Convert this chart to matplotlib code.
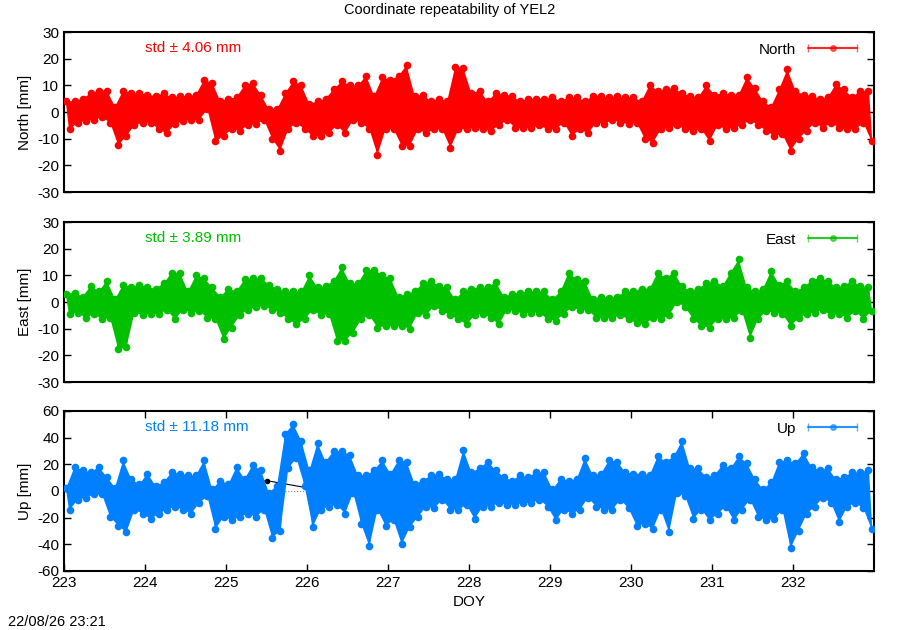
import numpy as np
import matplotlib
matplotlib.use("Agg")
import matplotlib.pyplot as plt
from matplotlib.container import ErrorbarContainer
from matplotlib.legend_handler import HandlerErrorbar

plt.rcParams["font.family"] = ["Liberation Sans", "DejaVu Sans"]
plt.rcParams["axes.unicode_minus"] = False

# residuals read per 0.1 day bin: upper and lower point in each bin (mm)
doy_start = 223.0
bin_width = 0.1

north_hi = [4, 4, 5, 7, 8, 8, 2, 8, 7, 7,
            6.5, 6, 7, 5.5, 6, 6, 6.5, 12, 11, 4,
            5, 5.5, 10, 11, 6.5, 1, 1, 7, 11.5, 10,
            3, 4, 5, 8.5, 11.5, 10, 10, 13.5, 6, 13,
            12, 13.5, 17.5, 6, 6.5, 4, 5, 4, 17, 16.5,
            7, 8, 4, 7, 6.5, 6, 4, 5, 5, 5,
            5.5, 4, 5.5, 5.5, 4, 6, 6, 5.5, 6, 5.5,
            5.5, 4, 10, 8, 8.5, 9, 7, 6, 5.5, 10,
            6.5, 7, 6.5, 6.5, 13, 9, 4, 2, 8.5, 16,
            8, 6.5, 6, 5, 5.5, 10.4, 8.5, 5.5, 8, 8]
north_lo = [-6.5, -4, -3.4, -3, -2, -4, -12.5, -9, -5, -4,
            -4, -6.5, -8, -4.5, -3.4, -3, -3, 1, -11, -9,
            -6.5, -7, -5, -4.5, -3, -10, -14.5, -6.5, -4, -6.5,
            -9, -9, -8, -5, -8, -3, -4, -6.5, -16, -6.5,
            -6.5, -12.7, -12.7, -6.5, -8, -6.5, -6.5, -13.4, -6.5, -6.5,
            -6, -6.5, -7, -5, -3, -6, -6, -6, -5, -6.5,
            -6.5, -4, -9, -6.5, -8, -4, -4.5, -3, -4, -4.5,
            -4, -10, -11.5, -6.5, -6, -5, -6.5, -7, -6.5, -11,
            -5, -6.5, -6, -5, -3, -5, -7, -9, -8.4, -14.5,
            -10, -7, -4, -6, -4, -6, -6.5, -6.5, -4, -11]

east_hi = [3, 3.5, 2, 6, 4, 8, 1, 6.5, 5.5, 6.5,
           5.5, 5, 7, 11, 11, 4, 10, 9, 5.5, 2,
           5, 4, 8.5, 9, 9, 6.5, 5, 4, 4, 4,
           10, 5.5, 6, 8, 13, 7, 7, 12, 12, 10,
           9, 2, 3, 4, 7, 8, 6, 5.5, 1, 4,
           5, 5.5, 5.5, 7.5, 2, 3, 3.5, 4, 4, 4,
           1, 4, 11, 8.5, 8, 1, 2, 1.6, 2, 4,
           4, 5, 5, 11, 9, 11, 6, 4, 5, 7,
           8, 6, 11, 16, 5.5, 4, 5, 11.6, 6.5, 8,
           4, 5.5, 8, 9, 8, 5.5, 6, 8, 6, 5.5]
east_lo = [-4.5, -4, -6, -4.5, -6.5, -6, -17.7, -17, -4, -5,
           -4.5, -4.5, -3, -6.5, -3, -4, -3.4, -6, -6.5, -14,
           -9.6, -5, -3, -2, -1.5, -3, -4, -6.5, -8.4, -6.5,
           -3, -5, -4.5, -14.6, -14.6, -11.5, -6.5, -5, -9.6, -9,
           -9, -9, -10, -4, -5, -1.5, -3.4, -5, -6.5, -8.4,
           -5, -4.5, -6, -8.4, -3, -3.4, -4.5, -4, -4, -6.5,
           -7, -4.5, -2, -3, -3, -6, -6, -6, -5, -6.5,
           -8, -8.4, -6, -6.5, -5, 0, -2, -6.5, -9, -9.6,
           -6.5, -6.5, -6, -3.4, -13.4, -6.5, -3.4, -4, -4.5, -9,
           -6, -4.5, -4, -3, -5, -4.5, -6, -3.4, -6.5, -3.4]

up_hi = [2.6, 18, 15.6, 14, 18, 10.4, 2.6, 23, 9, 5,
         13, 4, 6.5, 14, 13, 11.7, 11.7, 23, 1.3, 7.8,
         5, 18, 9, 19.5, 15.6, -1.3, 4, 43, 50, 37.7,
         15.6, 36, 22, 30, 30, 27, 11.7, 11.7, 15.6, 23,
         13, 23, 22, 5, 7.8, 11.7, 13, 9, 9, 31,
         14, 17, 22, 15.6, 10.4, 7.8, 11.7, 10.4, 14, 14,
         1.3, 9, 7.8, 9, 24.7, 11.7, 13, 23, 22, 14,
         13, 13, 11.7, 26, 22, 26, 37.7, 17, 17, 10.4,
         11.7, 19.5, 17, 26, 20.8, 9, 1.3, 6.5, 22, 23,
         20.8, 28.6, 18, 15.6, 17, 9, 10.4, 14, 14, 15.6]
up_lo = [-14, -6.5, -5, -2.6, -2.6, -19.5, -26, -31, -14, -17,
         -21, -17, -14, -11.7, -14, -17, -9, -4, -28.6, -19.5,
         -22, -19.5, -17, -19.5, -14, -35, -30, 17, 24.7, 4,
         -27, -14, -11.7, -10.4, -17, -1.3, -24.7, -41.5, -14, -26,
         -22, -40, -27, -19.5, -11.7, -13, -6.5, -14, -14, -10.4,
         -21, -11.7, -11.7, -9, -10.4, -10.4, -9, -9, -6.5, -11.7,
         -22, -14, -17, -14, -5, -11.7, -14, -14, -6.5, -13,
         -26, -24.7, -28.6, -14, -31, -1.3, -4, -21, -14, -22,
         -17, -11.7, -22, -14, -6.5, -19.5, -22, -21, -14, -42.8,
         -30, -17, -11.7, -5, -9, -23.4, -11.7, -9, -13, -28.6]

# daily solutions (black)
daily_doy = [223.5, 224.5, 225.5, 226.5, 227.5, 228.5, 229.5, 230.5, 231.5, 232.5]
north_daily = [0.5, 0.5, 1, 1, 0.5, -0.5, -1, -0.5, -1.2, 0]
east_daily = [0, 0, 0, 0, -0.5, -0.5, -0.3, 0.6, 0, 0]
up_daily = [1, 0, 7.8, -3, -3, -4, 1.3, 8.3, 2, 0]

names = ["North", "East", "Up"]
stds = [4.06, 3.89, 11.18]
colors = ["#ff0000", "#00c000", "#0080ff"]
ylims = [30, 30, 60]
ysteps = [10, 10, 20]

his = [north_hi, east_hi, up_hi]
los = [north_lo, east_lo, up_lo]
daily = [north_daily, east_daily, up_daily]

fig = plt.figure(figsize=(9, 6.3), dpi=100)
bottoms = [1 - 192 / 630, 1 - 382 / 630, 1 - 571 / 630]

for i in range(3):
    ax = fig.add_axes([64 / 900, bottoms[i], 810 / 900, 160 / 630])
    hi = np.array(his[i], dtype=float)
    lo = np.array(los[i], dtype=float)
    base = doy_start + bin_width * np.arange(len(hi))
    x_hi = base + 0.3 * bin_width
    x_lo = base + 0.7 * bin_width

    # zigzag through the points of each bin (upper, lower, upper, ...)
    xs = np.ravel(np.column_stack([x_hi, x_lo]))
    ys = np.ravel(np.column_stack([hi, lo]))

    ax.axhline(0, color="gray", ls=":", lw=0.8, zorder=1)
    ax.plot(daily_doy, daily[i], "-o", color="black", lw=0.8, ms=3, zorder=2)
    # band of the dense point cloud, edges through the upper / lower points
    ax.fill(np.concatenate([x_hi, x_lo[::-1]]), np.concatenate([hi, lo[::-1]]),
            color=colors[i], lw=0, zorder=3)
    ax.plot(xs, ys, "-", color=colors[i], lw=1.0, zorder=3)
    ax.plot(x_hi, hi, "o", color=colors[i], ms=5.5, mew=0, zorder=4)
    ax.plot(x_lo, lo, "o", color=colors[i], ms=5.5, mew=0, zorder=4)

    ax.set_xlim(223, 233)
    ax.set_ylim(-ylims[i], ylims[i])
    ax.set_yticks(np.arange(-ylims[i], ylims[i] + 1, ysteps[i]))
    ax.set_ylabel(f"{names[i]} [mm]", fontsize=11)
    ax.tick_params(direction="in", length=5, width=1, labelsize=11, right=True)
    if i == 2:
        ax.set_xticks(np.arange(223, 233))
        ax.tick_params(axis="x", top=True)
        ax.set_xlabel("DOY", fontsize=11)
    else:
        ax.set_xticks([])
    for s in ax.spines.values():
        s.set_linewidth(1.5)

    ax.text(0.1, 0.9, f"std \u00b1 {stds[i]:.2f} mm", color=colors[i],
            transform=ax.transAxes, fontsize=11, va="center")

    h = ax.errorbar([np.nan], [np.nan], xerr=[1], fmt="-o", color=colors[i],
                    alpha=0.6, ms=4, lw=1.5, capsize=3, label=names[i])
    ax.legend(handles=[h], loc="upper right", frameon=False, markerfirst=False,
              handlelength=3.2, fontsize=11, borderaxespad=0.3,
              bbox_to_anchor=(1 - 6 / 810, 1),
              handler_map={ErrorbarContainer: HandlerErrorbar(xerr_size=1.6)})

fig.text(0.5, 1 - 10 / 630, "Coordinate repeatability of YEL2", ha="center", va="center", fontsize=10.5)
fig.text(8 / 900, 8 / 630, "22/08/26 23:21", ha="left", va="center", fontsize=10.5)

fig.savefig("out.png", dpi=100)
